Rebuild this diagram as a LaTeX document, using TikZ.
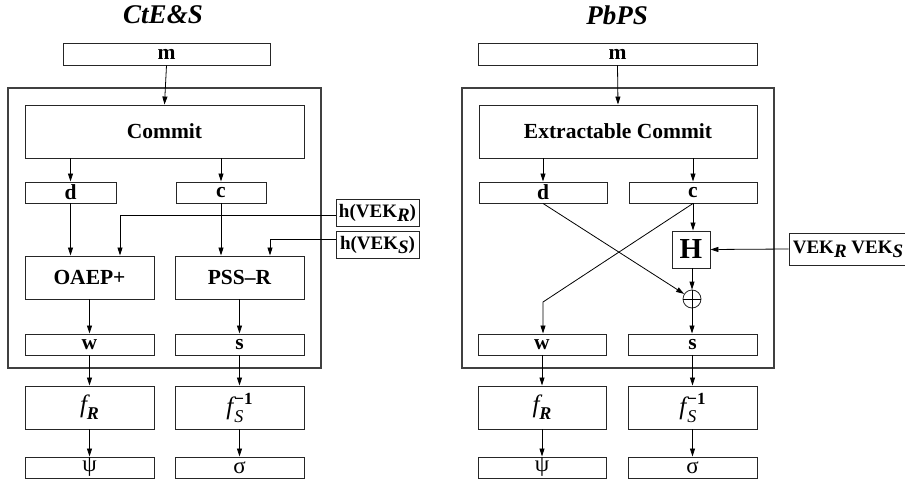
\documentclass[tikz,border=0pt]{standalone}
\usepackage{fontspec}
\setmainfont{Liberation Serif}
\usetikzlibrary{arrows.meta}
\begin{document}
\begin{tikzpicture}[x=1pt,y=-1pt,
  box/.style={draw=black!85, line width=0.9pt, inner sep=0pt, font=\fontsize{21.5}{24}\selectfont\bfseries},
  wide/.style={minimum width=129pt},
  thin/.style={minimum height=21pt},
  tall/.style={minimum height=43pt},
  greek/.style={font=\fontsize{23}{24}\selectfont},
  outerbox/.style={draw=black!75, line width=1.2pt, inner sep=0pt},
  ttl/.style={font=\fontsize{27}{30}\selectfont\bfseries\itshape},
  hbox/.style={draw=black!85, line width=0.9pt, inner sep=0pt, minimum width=83pt, minimum height=27pt, font=\fontsize{19}{22}\selectfont\bfseries},
  arr/.style={-{Triangle[length=8pt,width=5pt]}, line width=0.8pt},
  ln/.style={line width=0.8pt}]
\useasboundingbox (0,0) rectangle (905,479);
\newcommand{\fR}{{\fontsize{25}{28}\selectfont\itshape\mdseries f}\raisebox{-7pt}{\fontsize{18}{20}\selectfont\bfseries\itshape R}}
\newcommand{\fSinv}{{\fontsize{25}{28}\selectfont\itshape\mdseries f}\hspace{1pt}\rlap{\raisebox{-8pt}{\fontsize{18}{20}\selectfont\mdseries\itshape S}}\raisebox{10pt}{\fontsize{17}{20}\selectfont\bfseries −1}}

% ---------- left panel ----------
\node[ttl] (tL) at (163,15) {CtE\&S};
\node[outerbox, minimum width=313pt, minimum height=280pt] (oL) at (164.5,228) {};
\node[box, minimum width=207pt, minimum height=22pt] (mL) at (166.5,54) {m};
\node[box, minimum width=279pt, minimum height=53pt] (cmL) at (164.5,131.5) {Commit};
\node[box, minimum width=91pt, thin] (dL) at (70.5,192.5) {d};
\node[box, minimum width=90pt, thin] (cL) at (221,192.5) {c};
\node[hbox] (hR) at (377.5,212.5) {h(VEK\raisebox{-4pt}{\itshape R})};
\node[hbox] (hS) at (377.5,244.5) {h(VEK\raisebox{-4pt}{\itshape S})};
\node[box, wide, tall] (oaep) at (89.5,277.5) {OAEP+};
\node[box, wide, tall] (pss) at (239.5,277.5) {PSS\textendash R};
\node[box, wide, thin] (wL) at (89.5,344.5) {w};
\node[box, wide, thin] (sL) at (239.5,344.5) {s};
\node[box, wide, tall] (fRL) at (89.5,407.5) {\fR};
\node[box, wide, tall] (fSL) at (239.5,407.5) {\fSinv};
\node[box, wide, thin, greek] (psiL) at (89.5,467.5) {ψ};
\node[box, wide, thin, greek] (sigL) at (239.5,467.5) {σ};

\draw[arr] (mL.south) -- (cmL.north);
\draw[arr] (dL.north |- cmL.south) -- (dL.north);
\draw[arr] (cL.north |- cmL.south) -- (cL.north);
\draw[arr] (dL.south) -- (dL.south |- oaep.north);
\draw[arr] (cL.south) -- (cL.south |- pss.north);
\coordinate (kR) at (120,215);
\coordinate (kS) at (270,239);
\draw[arr] (hR.west |- kR) -- (kR) -- (kR |- oaep.north);
\draw[arr] (hS.west |- kS) -- (kS) -- (kS |- pss.north);
\draw[arr] (oaep.south) -- (wL.north);
\draw[arr] (pss.south) -- (sL.north);
\draw[arr] (wL.south) -- (fRL.north);
\draw[arr] (sL.south) -- (fSL.north);
\draw[arr] (fRL.south) -- (psiL.north);
\draw[arr] (fSL.south) -- (sigL.north);

% ---------- right panel ----------
\node[ttl] (tR) at (617,15) {PbPS};
\node[outerbox, minimum width=312pt, minimum height=280pt] (oR) at (618,228) {};
\node[box, minimum width=279pt, minimum height=22pt] (mR) at (617.5,54) {m};
\node[box, minimum width=278pt, minimum height=53pt] (cmR) at (618,131.5) {Extractable Commit};
\node[box, minimum width=128pt, thin] (dR) at (543,192.5) {d};
\node[box, minimum width=128pt, thin] (cR) at (693,192.5) {c};
\node[box, minimum width=38pt, minimum height=37pt, font=\fontsize{29}{32}\selectfont\bfseries] (H) at (691,249.5) {H};
\node[box, minimum width=118pt, minimum height=32pt, font=\fontsize{19}{22}\selectfont\bfseries] (vek) at (848,249) {VEK\raisebox{-4pt}{\itshape R} VEK\raisebox{-4pt}{\itshape S}};
\node[circle, draw=black!85, line width=0.8pt, minimum size=18pt, inner sep=0pt] (xo) at (692,299) {};
\draw[ln] (xo.north) -- (xo.south) (xo.west) -- (xo.east);
\node[box, minimum width=128pt, thin] (wR) at (542,344.5) {w};
\node[box, minimum width=129pt, thin] (sR) at (692.5,344.5) {s};
\node[box, minimum width=128pt, tall] (fRR) at (542,407.5) {\fR};
\node[box, minimum width=129pt, tall] (fSR) at (692.5,407.5) {\fSinv};
\node[box, minimum width=128pt, thin, greek] (psiR) at (542,467.5) {ψ};
\node[box, minimum width=129pt, thin, greek] (sigR) at (692.5,467.5) {σ};

\draw[arr] (mR.south) -- (cmR.north);
\draw[arr] (dR.north |- cmR.south) -- (dR.north);
\draw[arr] (cR.north |- cmR.south) -- (cR.north);
\draw[arr] (cR.south) -- (cR.south |- H.north);
\draw[arr] (vek.west) -- (H.east);
\draw[arr] (H.south -| xo.north) -- (xo.north);
\draw[arr] (dR.south) -- (xo);
\coordinate (bend) at (543,302);
\draw[arr] (cR.south) -- (bend) -- (bend |- wR.north);
\draw[arr] (xo.south) -- (xo.south |- sR.north);
\draw[arr] (wR.south -| fRR.north) -- (fRR.north);
\draw[arr] (sR.south) -- (fSR.north);
\draw[arr] (fRR.south) -- (psiR.north);
\draw[arr] (fSR.south) -- (sigR.north);
\end{tikzpicture}
\end{document}
